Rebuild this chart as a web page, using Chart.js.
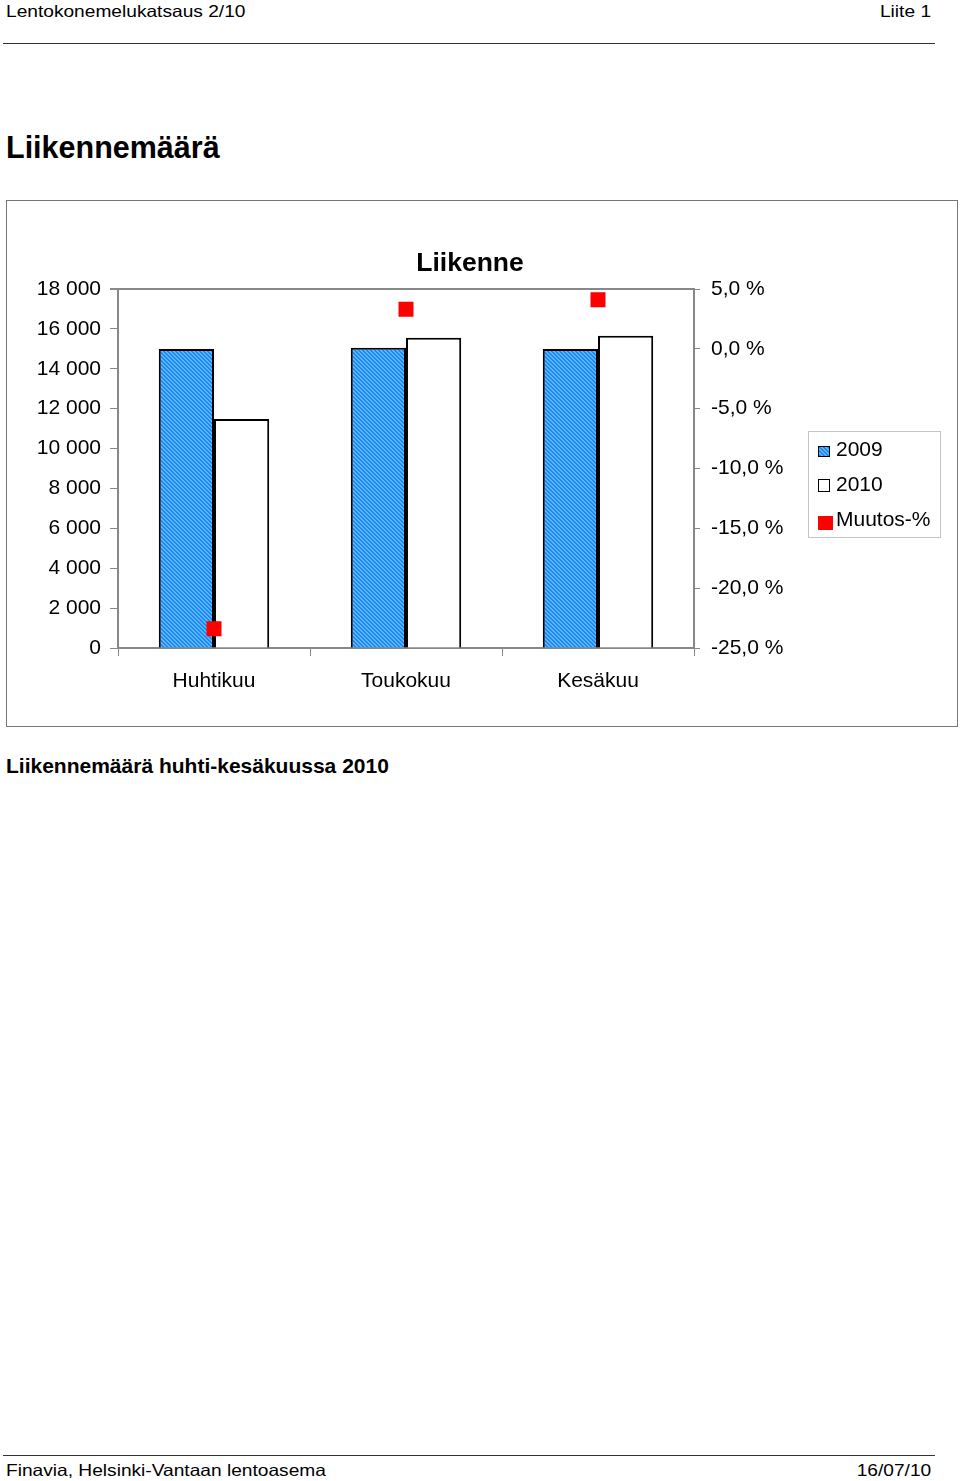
<!DOCTYPE html>
<html><head><meta charset="utf-8">
<script src="https://cdn.jsdelivr.net/npm/chart.js@4.4.1/dist/chart.umd.min.js"></script>
<style>
html,body{margin:0;padding:0;background:#fff;}
body{width:960px;height:1481px;position:relative;font-family:'Liberation Sans',Arial,Helvetica,sans-serif;color:#000;overflow:hidden;}
.t{position:absolute;white-space:nowrap;line-height:1;}
.small{font-size:16.5px;}
.sl{transform:scaleX(1.16);transform-origin:left top;}
.sr{transform:scaleX(1.16);transform-origin:right top;}
.rule{position:absolute;left:3px;width:932px;height:0;border-top:1.5px solid #333;}
#box{position:absolute;left:6px;top:200px;width:950px;height:525px;border:1px solid #777;}
#c{position:absolute;left:0;top:0;}
</style></head>
<body>
<div class="t small sl" style="left:6px;top:3px;">Lentokonemelukatsaus 2/10</div>
<div class="t small sr" style="right:29px;top:3px;">Liite 1</div>
<div class="rule" style="top:43px;"></div>
<div class="t" style="left:6px;top:132px;font-size:30.5px;font-weight:bold;">Liikennemäärä</div>
<div id="box"><canvas id="c" width="950" height="525"></canvas></div>
<div class="t" style="left:6px;top:755px;font-size:21px;font-weight:bold;">Liikennemäärä huhti-kesäkuussa 2010</div>
<div class="rule" style="top:1455px;"></div>
<div class="t small sl" style="left:6px;top:1462px;">Finavia, Helsinki-Vantaan lentoasema</div>
<div class="t small sr" style="right:29px;top:1462px;">16/07/10</div>
<script>
// ---- data ----
const categories = ['Huhtikuu', 'Toukokuu', 'Kesäkuu'];
const traffic2009 = [14990, 15060, 14990];
const traffic2010 = [11480, 15560, 15660];
const changePct = [-23.4, 3.3, 4.1];
const seriesNames = ['2009', '2010', 'Muutos-%'];
const chartTitle = 'Liikenne';
const leftAxisMin = 0, leftAxisMax = 18000, leftAxisStep = 2000;
const rightAxisMin = -25, rightAxisMax = 5, rightAxisStep = 5;

// ---- styles ----
const FONT = "'Liberation Sans', Arial, Helvetica, sans-serif";
const AXIS = '#888';

function makeHatch() {
  const p = document.createElement('canvas');
  p.width = 4; p.height = 4;
  const g = p.getContext('2d');
  for (let y = 0; y < 4; y++) for (let x = 0; x < 4; x++) {
    g.fillStyle = ((x - y + 8) % 4 < 2) ? '#5cb6ff' : '#1a8af2';
    g.fillRect(x, y, 1, 1);
  }
  return g.createPattern(p, 'repeat');
}
const ctx = document.getElementById('c').getContext('2d');
const hatch = makeHatch();

function fmtThousands(v) { return String(v).replace(/\B(?=(\d{3})+(?!\d))/g, ' '); }
function fmtPct(v) { return v.toFixed(1).replace('.', ',') + ' %'; }

const decor = {
  id: 'decor',
  afterDraw(chart) {
    const c = chart.ctx, a = chart.chartArea;
    c.save();
    // top frame line of plot area
    c.strokeStyle = AXIS; c.lineWidth = 2;
    c.beginPath(); c.moveTo(a.left - 8, a.top); c.lineTo(a.right, a.top); c.stroke();
    // title
    c.fillStyle = '#000';
    c.font = "bold 26.5px " + FONT;
    c.textAlign = 'center'; c.textBaseline = 'alphabetic';
    c.fillText(chartTitle, 463, 70);
    // legend box
    c.strokeStyle = '#c4c4c4'; c.lineWidth = 1;
    c.strokeRect(801.5, 230.5, 132, 106);
    c.font = "21px " + FONT; c.textAlign = 'left';
    // 2009
    c.fillStyle = hatch; c.fillRect(811, 245, 12, 11);
    c.strokeStyle = '#000'; c.lineWidth = 1; c.strokeRect(811.5, 245.5, 11, 10);
    c.fillStyle = '#000'; c.fillText(seriesNames[0], 829, 254.5);
    // 2010
    c.fillStyle = '#fff'; c.fillRect(811, 278, 12, 12);
    c.strokeRect(811.5, 278.5, 11, 12);
    c.fillStyle = '#000'; c.fillText(seriesNames[1], 829, 289.5);
    // Muutos
    c.fillStyle = '#ff0000'; c.fillRect(811, 315, 15, 14);
    c.fillStyle = '#000'; c.fillText(seriesNames[2], 829, 325);
    c.restore();
  }
};

new Chart(ctx, {
  data: {
    labels: categories,
    datasets: [
      { type: 'line', label: seriesNames[2], data: changePct, yAxisID: 'y1', order: 0,
        showLine: false, pointStyle: 'rect', pointRadius: 10.6, pointHoverRadius: 10.6,
        pointBackgroundColor: '#ff0000', pointBorderWidth: 0, backgroundColor: '#ff0000', borderColor: '#ff0000' },
      { type: 'bar', label: seriesNames[0], data: traffic2009, yAxisID: 'y', order: 1,
        backgroundColor: hatch, borderColor: '#000', borderWidth: 2,
        categoryPercentage: 0.575, barPercentage: 1.0 },
      { type: 'bar', label: seriesNames[1], data: traffic2010, yAxisID: 'y', order: 1,
        backgroundColor: '#fff', borderColor: '#000', borderWidth: 2,
        categoryPercentage: 0.575, barPercentage: 1.0 }
    ]
  },
  options: {
    responsive: false, animation: false, devicePixelRatio: 1,
    layout: { padding: { top: 88, left: 0, right: 0, bottom: 0 } },
    plugins: { legend: { display: false }, tooltip: { enabled: false }, title: { display: false } },
    scales: {
      x: {
        type: 'category', offset: true,
        grid: { display: true, drawOnChartArea: false, drawTicks: true, tickLength: 8, color: AXIS, lineWidth: 1, offset: true },
        border: { display: true, color: AXIS, width: 2 },
        ticks: { color: '#000', font: { size: 21, family: FONT }, padding: 13, maxRotation: 0, autoSkip: false },
        afterFit(s) { s.height = 78; }
      },
      y: {
        position: 'left', min: leftAxisMin, max: leftAxisMax,
        grid: { drawOnChartArea: false, tickLength: 8, color: AXIS, lineWidth: 1 },
        border: { display: true, color: AXIS, width: 2 },
        ticks: { stepSize: leftAxisStep, color: '#000', font: { size: 21, family: FONT }, padding: 9, callback: (v) => fmtThousands(v) },
        afterFit(s) { s.width = 111; }
      },
      y1: {
        position: 'right', min: rightAxisMin, max: rightAxisMax,
        grid: { drawOnChartArea: false, tickLength: 6, color: AXIS, lineWidth: 1 },
        border: { display: true, color: AXIS, width: 2 },
        ticks: { stepSize: rightAxisStep, color: '#000', font: { size: 21, family: FONT }, padding: 11, callback: (v) => fmtPct(v) },
        afterFit(s) { s.width = 263; }
      }
    }
  },
  plugins: [decor]
});
</script>
</body></html>
